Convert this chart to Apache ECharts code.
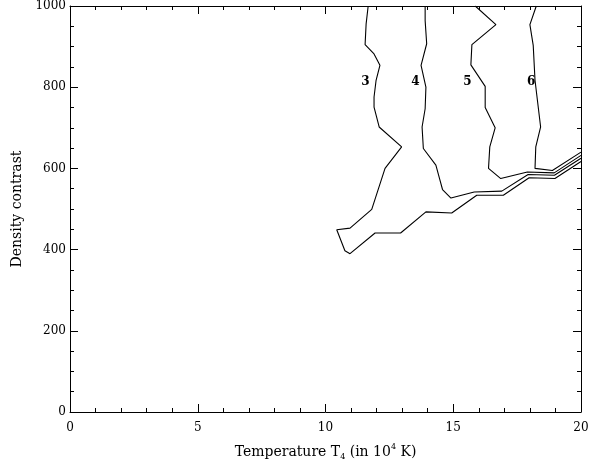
<!DOCTYPE html>
<html>
<head>
<meta charset="utf-8">
<script src="https://cdn.jsdelivr.net/npm/echarts@6/dist/echarts.min.js"></script>
<style>
html,body{margin:0;padding:0;background:#fff;}
#chart{width:592px;height:466px;}
</style>
</head>
<body>
<div id="chart"></div>
<script>
// contour lines, [T4, density contrast]
var contour3 = [[11.67,1000],[11.59,956],[11.55,905],[11.9,882],[12.13,854],[11.98,817],[11.9,776],[11.9,751],
	[12.1,702],[12.98,653],[12.33,600],[11.81,499],[10.96,453],[10.44,449],[10.76,397],[10.96,390],
	[11.94,441],[12.94,441],[13.93,493],[14.94,490],[15.92,534],[16.96,534],[17.97,577],[18.98,575],[20,617]];
var contour4 = [[13.9,1000],[13.9,964],[13.96,907],[13.74,854],[13.93,800],[13.9,747],[13.78,702],[13.83,649],
	[14.32,608],[14.48,571],[14.58,548],[14.91,527],[15.82,542],[16.9,544],[17.93,585],[18.96,583],[20,625]];
var contour5 = [[15.86,1000],[16.67,954],[15.73,905],[15.69,855],[16.25,802],[16.25,750],[16.64,700],[16.43,653],
	[16.38,600],[16.86,575],[17.9,591],[18.95,589],[20,632]];
var contour6 = [[18.25,1000],[18.0,954],[18.13,903],[18.2,817],[18.42,702],[18.23,653],[18.2,600],[18.88,595],[20,640]];
// level labels
var levelLabels = [[11.56,814,'3'],[13.52,814,'4'],[15.55,814,'5'],[18.05,814,'6']];

var xTicks = {min:0, max:20, interval:5};
var yTicks = {min:0, max:1000, interval:200};

var font = 'DejaVu Serif';
var myChart = echarts.init(document.getElementById('chart'));

function lineSeries(d){
	return {
		type:'line',
		data:d,
		symbol:'none',
		silent:true,
		lineStyle:{color:'#000', width:1.1},
		animation:false
	};
}

var option = {
	animation:false,
	grid:{left:70, right:11, top:6, bottom:53},
	xAxis:[
		{
			type:'value', min:xTicks.min, max:xTicks.max, interval:xTicks.interval,
			name:'Temperature T{sub|4} (in 10{sup|4} K)',
			nameLocation:'middle', nameGap:31,
			nameTextStyle:{fontFamily:font, fontSize:14, color:'#000', lineHeight:18,
				rich:{
					sub:{fontFamily:font, fontSize:8, color:'#000', verticalAlign:'bottom', lineHeight:18},
					sup:{fontFamily:font, fontSize:8, color:'#000', verticalAlign:'top', lineHeight:18}
				}},
			axisLine:{show:true, onZero:false, lineStyle:{color:'#000', width:1}},
			axisTick:{show:true, inside:true, length:8, lineStyle:{color:'#000'}},
			minorTick:{show:true, splitNumber:5, length:4, lineStyle:{color:'#000'}},
			axisLabel:{fontFamily:font, fontSize:12, color:'#000', margin:10},
			splitLine:{show:false}
		},
		{
			type:'value', position:'top', min:xTicks.min, max:xTicks.max, interval:xTicks.interval,
			axisLine:{show:true, onZero:false, lineStyle:{color:'#000', width:1}},
			axisTick:{show:true, inside:true, length:8, lineStyle:{color:'#000'}},
			minorTick:{show:true, splitNumber:5, length:4, lineStyle:{color:'#000'}},
			axisLabel:{show:false},
			splitLine:{show:false}
		}
	],
	yAxis:[
		{
			type:'value', min:yTicks.min, max:yTicks.max, interval:yTicks.interval,
			name:'Density contrast',
			nameLocation:'middle', nameGap:41,
			nameTextStyle:{fontFamily:font, fontSize:14, color:'#000'},
			axisLine:{show:true, onZero:false, lineStyle:{color:'#000', width:1}},
			axisTick:{show:true, inside:true, length:8, lineStyle:{color:'#000'}},
			minorTick:{show:true, splitNumber:4, length:4, lineStyle:{color:'#000'}},
			axisLabel:{fontFamily:font, fontSize:12, color:'#000', margin:4,
				formatter:function(v){ return String(v); }},
			splitLine:{show:false}
		},
		{
			type:'value', position:'right', min:yTicks.min, max:yTicks.max, interval:yTicks.interval,
			axisLine:{show:true, onZero:false, lineStyle:{color:'#000', width:1}},
			axisTick:{show:true, inside:true, length:8, lineStyle:{color:'#000'}},
			minorTick:{show:true, splitNumber:4, length:4, lineStyle:{color:'#000'}},
			axisLabel:{show:false},
			splitLine:{show:false}
		}
	],
	series:[
		lineSeries(contour3),
		lineSeries(contour4),
		lineSeries(contour5),
		lineSeries(contour6),
		{
			type:'scatter',
			data:levelLabels,
			symbolSize:1,
			silent:true,
			itemStyle:{color:'rgba(0,0,0,0)', opacity:1},
			label:{
				show:true, position:'inside',
				fontFamily:font, fontSize:12, fontWeight:'bold', color:'#000',
				textBorderWidth:0,
				formatter:function(p){ return p.value[2]; }
			}
		}
	]
};
myChart.setOption(option);
</script>
</body>
</html>
